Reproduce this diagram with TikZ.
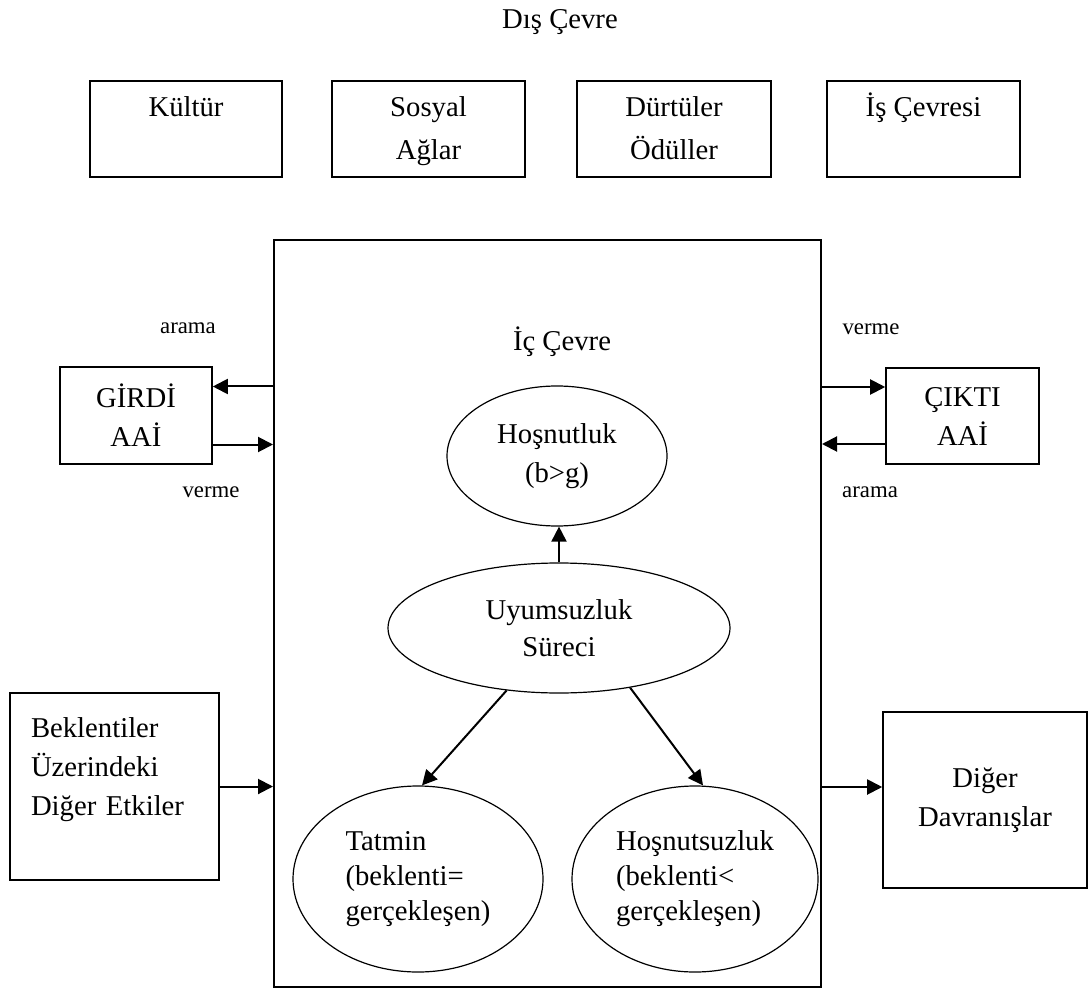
\documentclass[tikz,border=0pt]{standalone}
\usepackage{fontspec}
\setmainfont{Liberation Serif}
\usetikzlibrary{shapes.geometric,arrows.meta,calc}
\begin{document}
\begin{tikzpicture}[x=0.5pt,y=-0.5pt,
  txt/.style={font=\fontsize{14.35}{19.5}\selectfont, align=center},
  smalltxt/.style={font=\fontsize{11.4}{13}\selectfont},
  box/.style={draw, line width=0.8pt, rectangle, inner sep=0pt, txt},
  topbox/.style={box, minimum height=48pt, font=\fontsize{14.35}{21.5}\selectfont},
  ell/.style={draw, line width=0.6pt, ellipse, inner sep=0pt, txt},
  arr/.style={line width=1pt, -{Triangle[length=7.5pt,width=7.5pt]}},
]
\path[use as bounding box, fill=white] (0,0) rectangle (1090,988);

% outer environment
\node[txt] (dis) at (560,22) {Dış Çevre};
\node[topbox, minimum width=96pt] (kultur) at (186,129) {\strut Kültür\\\strut};
\node[topbox, minimum width=96.5pt] (sosyal) at (428.5,129) {\strut Sosyal\\\strut Ağlar};
\node[topbox, minimum width=97pt] (durtu) at (674,129) {\strut Dürtüler\\\strut Ödüller};
\node[topbox, minimum width=96.5pt] (iscevre) at (923.5,129) {\strut İş Çevresi\\\strut};

% inner environment
\node[draw, line width=1pt, minimum width=273.5pt, minimum height=373.5pt, inner sep=0pt] (main) at (547.5,613.5) {};
\node[txt] (ic) at (562,342) {İç Çevre};

\node[ell, minimum width=110pt, minimum height=70pt] (hos) at (557,456) {Hoşnutluk\\(b>g)};
\node[ell, minimum width=171pt, minimum height=65pt, font=\fontsize{14.35}{18.5}\selectfont] (uyum) at (559,628) {Uyumsuzluk\\Süreci};
\node[ell, minimum width=125pt, minimum height=93pt, align=left, font=\fontsize{14.35}{17.5}\selectfont] (tatmin) at (418,879) {Tatmin\\(beklenti=\\gerçekleşen)};
\node[ell, minimum width=123pt, minimum height=93pt, align=left, font=\fontsize{14.35}{17.5}\selectfont] (hosz) at (695,879) {Hoşnutsuzluk\\(beklenti<\\gerçekleşen)};

\draw[arr] (uyum.north) -- (uyum.north |- hos.south);
\draw[arr] (uyum.230) -- ([xshift=2pt]tatmin.north);
\draw[arr] (uyum.320) -- ([xshift=4pt]hosz.north);

% input / output
\node[box, minimum width=76pt, minimum height=48.5pt] (girdi) at (136,415.5) {GİRDİ\\AAİ};
\node[box, minimum width=76.5pt, minimum height=48pt] (cikti) at (962.5,416) {ÇIKTI\\AAİ};

\draw[arr] ([yshift=14.5pt]girdi.east -| main.west) -- ([yshift=14.5pt]girdi.east);
\draw[arr] ([yshift=-14.5pt]girdi.east) -- ([yshift=-14.5pt]girdi.east -| main.west);
\draw[arr] ([yshift=14.5pt]cikti.west -| main.east) -- ([yshift=14.5pt]cikti.west);
\draw[arr] ([yshift=-14pt]cikti.west) -- ([yshift=-14pt]cikti.west -| main.east);

\node[smalltxt] (arama1) at (188,328) {arama};
\node[smalltxt] (verme1) at (211,492) {verme};
\node[smalltxt] (verme2) at (871,329) {verme};
\node[smalltxt] (arama2) at (870,492) {arama};

% other influences / behaviours
\node[box, text width=83.5pt, inner xsep=10.5pt, minimum height=93.5pt, align=left] (bek) at (114.5,786.5) {Beklentiler\\Üzerindeki\\Diğer Etkiler\\\mbox{}};
\node[box, minimum width=102pt, minimum height=88pt] (diger) at (985,800) {Diğer\\Davranışlar};

\draw[arr] (bek.east) -- (bek.east -| main.west);
\draw[arr] ([yshift=6.5pt]diger.west -| main.east) -- ([yshift=6.5pt]diger.west);
\end{tikzpicture}
\end{document}
